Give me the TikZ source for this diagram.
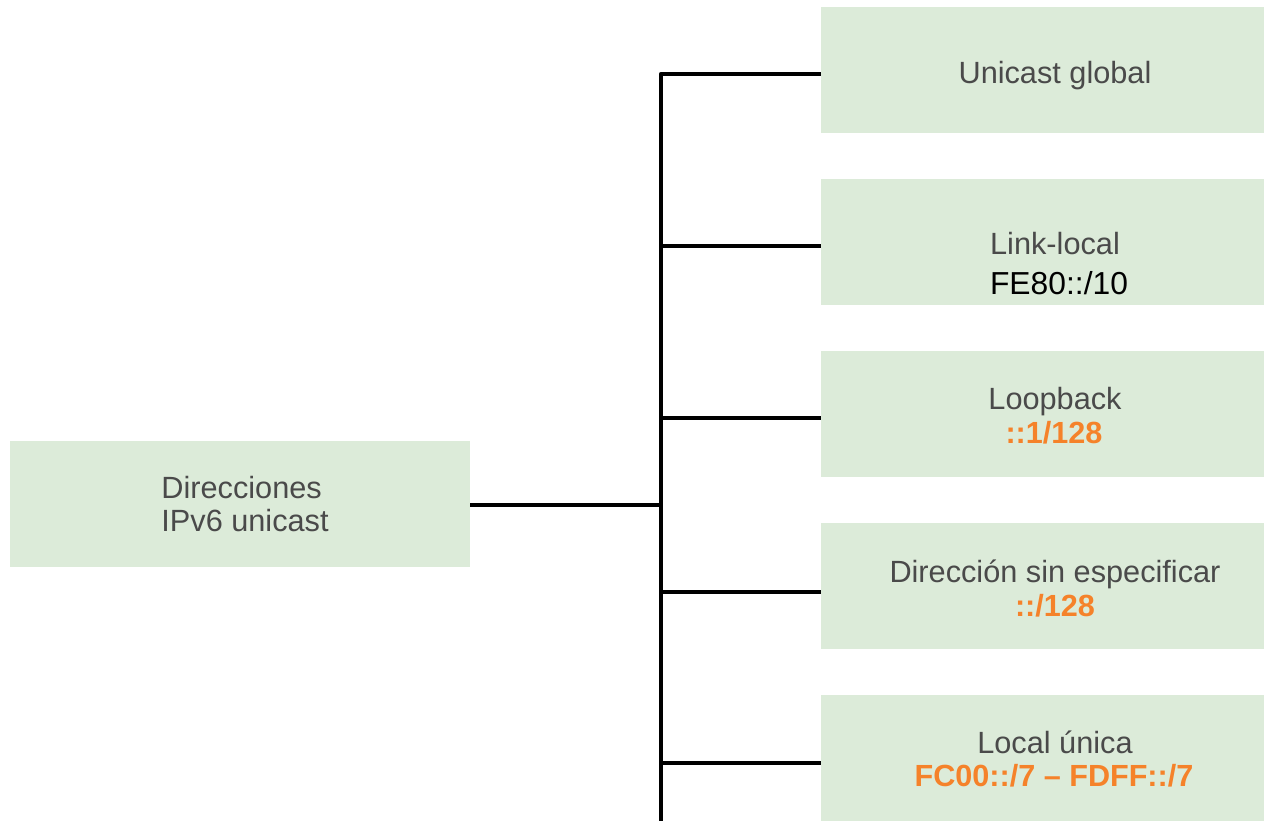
\documentclass[tikz,border=0pt]{standalone}
\usepackage{fontspec}
\setmainfont{Liberation Sans}
\definecolor{boxfill}{HTML}{DCEBD9}
\definecolor{txtgray}{HTML}{4A4A4A}
\definecolor{orng}{HTML}{F5822A}
\begin{document}
\begin{tikzpicture}[x=0.5pt,y=-0.5pt,
  box/.style={draw=none,fill=boxfill,rectangle,inner sep=0pt,minimum height=63pt},
  rbox/.style={box,minimum width=234pt},
  lbl/.style={anchor=base,inner sep=0pt,text=txtgray,font=\fontsize{15.35}{18}\selectfont},
  lblk/.style={anchor=base,inner sep=0pt,text=black,font=\fontsize{15.9}{18}\selectfont},
  code/.style={anchor=base,inner sep=0pt,text=orng,font=\fontsize{15.3}{18}\selectfont\bfseries},
  conn/.style={draw=black,line width=2pt,line join=round}]
\useasboundingbox (0,0) rectangle (1264,820);
% boxes
\node[box,minimum width=230pt] (src) at (240,504) {};
\node[rbox] (b1) at (1055,69.5) {};
\node[rbox] (b2) at (1055,241.5) {};
\node[rbox] (b3) at (1055,413.5) {};
\node[rbox] (b4) at (1055,586) {};
\node[rbox] (b5) at (1055,758) {};
% texts
\node[lbl,anchor=base west] (s1) at (161,498.3) {Direcciones};
\node[lbl,anchor=base west] (s2) at (161,531.7) {IPv6 unicast};
\node[lbl] (t1) at (1055,83) {Unicast global};
\node[lbl] (t2) at (1055,254.3) {Link-local};
\node[lblk] (t2b) at (1059,294) {FE80::/10};
\node[lbl] (t3) at (1055,409.3) {Loopback};
\node[code] (t3b) at (1054,443.3) {::1/128};
\node[lbl] (t4) at (1055,582.7) {Dirección sin especificar};
\node[code] (t4b) at (1055,616.7) {::/128};
\node[lbl] (t5) at (1055,753.3) {Local única};
\node[code] (t5b) at (1054,786.7) {FC00::/7 – FDFF::/7};
% connectors
\coordinate (bot) at (660.7,822);
\coordinate (p1) at ([yshift=-2.25pt]b1.west);
\coordinate (p2) at ([yshift=-2.25pt]b2.west);
\coordinate (p3) at ([yshift=-2.25pt]b3.west);
\coordinate (p4) at ([yshift=-2.75pt]b4.west);
\coordinate (p5) at ([yshift=-2.6pt]b5.west);
\coordinate (ps) at ([yshift=-0.5pt]src.east);
\draw[conn] (p1) -- (p1 -| bot) -- (bot);
\draw[conn] (p2) -- (p2 -| bot);
\draw[conn] (p3) -- (p3 -| bot);
\draw[conn] (p4) -- (p4 -| bot);
\draw[conn] (p5) -- (p5 -| bot);
\draw[conn] (ps) -- (ps -| bot);
\end{tikzpicture}
\end{document}
